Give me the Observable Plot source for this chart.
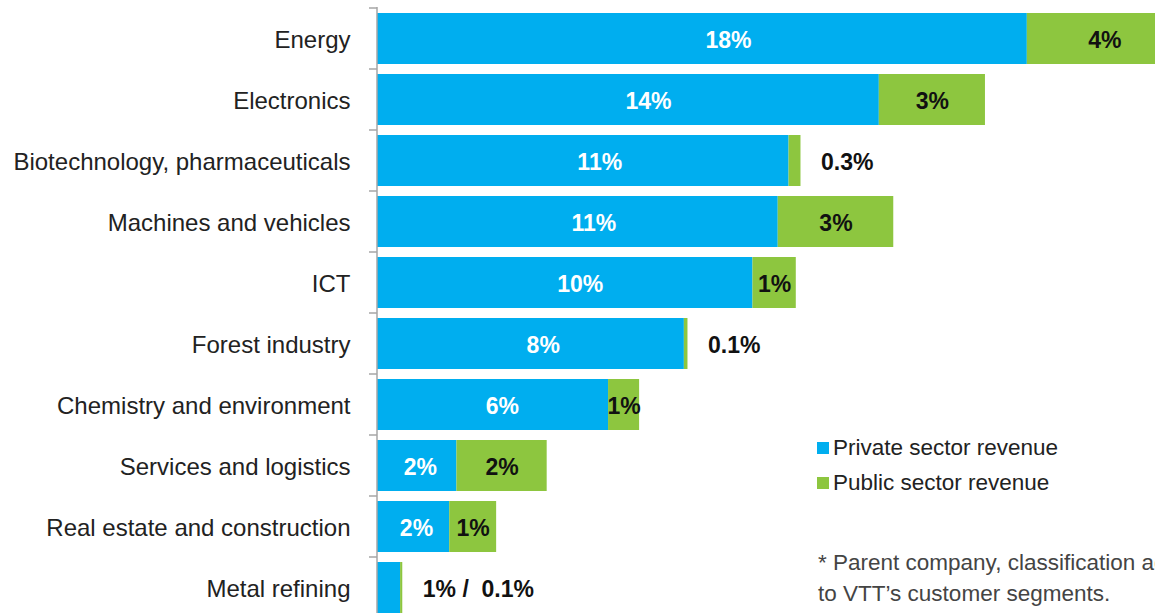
<!DOCTYPE html>
<html>
<head>
<meta charset="utf-8">
<script src="https://cdn.jsdelivr.net/npm/d3@7"></script>
<script src="https://cdn.jsdelivr.net/npm/@observablehq/plot@0.6"></script>
<style>
  html, body { margin: 0; padding: 0; background: #fff; overflow: hidden; }
  #wrap { position: relative; width: 1155px; height: 613px; overflow: hidden; font-family: "Liberation Sans", Arial, sans-serif; }
  #chart { position: absolute; left: 0; top: 0; }
  .legend { position: absolute; left: 817px; color: #222; font-size: 22.5px; white-space: nowrap; }
  .legend .sw { display: inline-block; width: 12px; height: 12px; margin-right: 4px; vertical-align: 1px; }
  .note { position: absolute; left: 818px; color: #444; font-size: 22.5px; white-space: nowrap; line-height: 31px; }
</style>
</head>
<body>
<div id="wrap">
  <div id="chart"></div>
  <div class="legend" style="top:435px"><span class="sw" style="background:#00AEEF"></span>Private sector revenue</div>
  <div class="legend" style="top:470px"><span class="sw" style="background:#8DC63F"></span>Public sector revenue</div>
  <div class="note" style="top:547px">* Parent company, classification according<br>to VTT’s customer segments.</div>
</div>
<script>
const categories = ["Energy","Electronics","Biotechnology, pharmaceuticals","Machines and vehicles","ICT","Forest industry","Chemistry and environment","Services and logistics","Real estate and construction","Metal refining"];
const privateShare = [18.0, 13.9, 11.4, 11.1, 10.4, 8.5, 6.4, 2.2, 2.0, 0.64];
const publicShare = [4.3, 2.94, 0.33, 3.2, 1.2, 0.1, 0.86, 2.5, 1.3, 0.06];
const privateLabels = ["18%","14%","11%","11%","10%","8%","6%","2%","2%",""];
const publicLabels = ["4%","3%","0.3%","3%","1%","0.1%","1%","2%","1%","1% /  0.1%"];

const rows = categories.map((c, i) => ({
  cat: c, priv: privateShare[i], pub: publicShare[i],
  privLabel: privateLabels[i], pubLabel: publicLabels[i]
}));
const inside = rows.filter(d => d.pub >= 0.8);
const outside = rows.filter(d => d.pub < 0.8);

const BLUE = "#00AEEF", GREEN = "#8DC63F";
const pI = 0.164;

const plot = Plot.plot({
  width: 1155, height: 613,
  marginLeft: 377, marginRight: 0, marginTop: 7, marginBottom: 0,
  style: {fontFamily: "'Liberation Sans', Arial, sans-serif", background: "transparent", overflow: "hidden"},
  x: {domain: [0, 21.55], axis: null},
  y: {domain: categories, range: [8, 618], paddingInner: pI, paddingOuter: pI / 2, label: null},
  marks: [
    Plot.barX(rows, {y: "cat", x1: 0, x2: "priv", fill: BLUE, clip: true}),
    Plot.barX(rows, {y: "cat", x1: "priv", x2: d => d.priv + d.pub, fill: GREEN, clip: true}),
    Plot.axisY({tickSize: 0, tickPadding: 27, fontSize: 24, color: "#222", dy: 1}),
    Plot.text(rows, {y: "cat", x: d => d.priv * 0.54, text: "privLabel", fill: "white", fontWeight: "bold", fontSize: 23, dy: 2}),
    Plot.text(inside, {y: "cat", x: d => d.priv + d.pub / 2, text: "pubLabel", fill: "#111", fontWeight: "bold", fontSize: 23, dy: 2}),
    Plot.text(outside, {y: "cat", x: d => d.priv + d.pub, text: "pubLabel", fill: "#111", fontWeight: "bold", fontSize: 23, textAnchor: "start", dx: 20, dy: 2})
  ]
});
document.getElementById("chart").appendChild(plot);

// axis line and ticks between bands, placed via the plot's own scales
const ys = plot.scale("y"), xs = plot.scale("x");
const x0 = xs.apply(0);
const svg = d3.select(plot.tagName.toLowerCase() === "svg" ? plot : plot.querySelector("svg"));
const g = svg.append("g").attr("stroke", "#a6a6a6").attr("stroke-width", 1.5);
g.append("line").attr("x1", x0).attr("x2", x0).attr("y1", 7).attr("y2", 613);
const gap = ys.step - ys.bandwidth;
categories.forEach(c => {
  const yb = ys.apply(c) - gap / 2;
  g.append("line").attr("x1", x0 - 8).attr("x2", x0).attr("y1", yb).attr("y2", yb);
});
</script>
</body>
</html>
